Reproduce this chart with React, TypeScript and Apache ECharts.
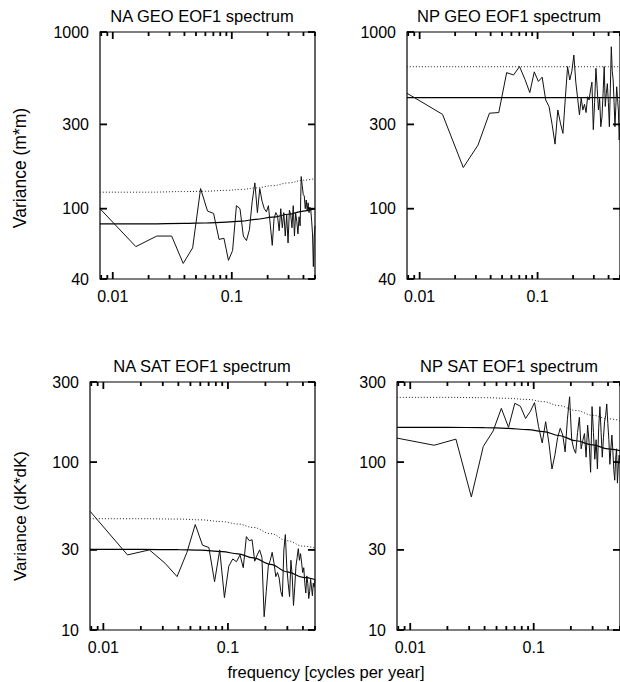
import React, { useEffect, useRef } from 'react';
import * as echarts from 'echarts';

const FONT = '"Liberation Sans", Arial, Helvetica, sans-serif';

// Discrete frequencies k / 128 cycles per year, k = 1..64
const N_YEARS = 128;
const freqs = Array.from({ length: 64 }, (_, i) => (i + 1) / N_YEARS);

// Spectra (variance)
const naGeo = [
  100, 61, 70, 70, 49, 60, 130, 97, 94, 67, 68, 51, 58, 104, 100, 70,
  66, 76, 110, 140, 95, 130, 110, 100, 96, 104, 80, 62, 88, 95, 91, 75,
  100, 78, 95, 70, 92, 64, 98, 93, 78, 104, 70, 94, 85, 72, 90, 80,
  152, 135, 120, 118, 100, 112, 98, 108, 95, 102, 98, 85, 72, 47, 70, 80,
];
const npGeo = [
  450, 342, 171, 229, 347, 350, 589, 571, 637, 540, 454, 595, 525, 555, 412, 379,
  300, 232, 362, 305, 267, 420, 637, 535, 600, 740, 520, 420, 340, 422, 362, 390,
  350, 430, 412, 470, 520, 280, 400, 623, 480, 362, 420, 291, 330, 450, 637, 379,
  450, 510, 400, 291, 480, 825, 600, 535, 400, 291, 380, 490, 420, 362, 245, 305,
];
const naSat = [
  51, 28, 30, 25, 20.8, 29, 42.5, 32, 31, 19.4, 30, 15.6, 24, 26.5, 25.5, 28,
  23.5, 36, 34, 34.5, 25.7, 28, 30, 27, 12, 17, 24, 26, 29, 25, 20.8, 22,
  20.4, 17, 15.8, 30, 37, 23.5, 19, 15.8, 26, 21, 14, 18, 24, 27, 30.5, 26,
  28.5, 25, 22, 23.5, 19, 16.6, 21, 19, 15.4, 17, 20, 18, 16, 19, 18, 20,
];
const npSat = [
  139, 126, 137, 62, 124, 153, 209, 161, 224, 215, 182, 200, 226, 163, 130, 174,
  130, 91, 110, 140, 159, 145, 115, 180, 245, 136, 120, 113, 150, 185, 120, 135,
  148, 107, 166, 130, 87, 214, 150, 104, 136, 91, 160, 214, 150, 107, 140, 174,
  190, 222, 170, 136, 97, 120, 145, 118, 90, 78, 104, 120, 75, 95, 110, 98,
];

// Fitted red-noise spectra (solid) and 95% level (dotted)
const fitFreqs = [0.0078125, 0.02, 0.04, 0.06, 0.09, 0.12, 0.16, 0.22, 0.3, 0.4, 0.5];
const naGeoFit = [82, 82, 82.5, 83, 84, 85, 87, 89.5, 93, 97, 100];
const naGeoConf = [124, 124, 125, 125.5, 127, 128.5, 131, 135, 140, 145, 148];
const npGeoFit = [425, 425, 425, 425, 425, 425, 425, 425, 425, 425, 425];
const npGeoConf = [636, 636, 636, 636, 636, 636, 636, 636, 636, 636, 636];
const naSatFit = [30.2, 30.2, 30.1, 29.9, 29.3, 28.4, 26.9, 24.6, 22.2, 20.6, 20];
const naSatConf = [46, 46, 45.8, 45.3, 44.2, 42.8, 40.8, 37.5, 34, 31.6, 30.8];
const npSatFit = [161, 161, 160.5, 159, 156, 152, 144, 134, 126.5, 120, 117];
const npSatConf = [243, 243, 242, 240, 236, 229, 217, 203, 190, 181, 177];

const titles = ['NA GEO EOF1 spectrum', 'NP GEO EOF1 spectrum', 'NA SAT EOF1 spectrum', 'NP SAT EOF1 spectrum'];
const geoTicks = [40, 100, 300, 1000];
const satTicks = [10, 30, 100, 300];
const xMajorTicks = [0.01, 0.1];
const xMajorLabels = ['0.01', '0.1'];
const xMinorTicks = [0.008, 0.009, 0.02, 0.03, 0.04, 0.05, 0.06, 0.07, 0.08, 0.09, 0.2, 0.3, 0.4, 0.5];
const yNames = ['Variance (m*m)', 'Variance (dK*dK)'];
const xName = 'frequency [cycles per year]';

const X_MIN = Math.log10(freqs[0]);
const X_MAX = Math.log10(freqs[freqs.length - 1]);

const panels = [
  { left: 100, top: 32, width: 215, height: 247, ticks: geoTicks, values: naGeo, fit: naGeoFit, conf: naGeoConf, tx: 202, ty: 7 },
  { left: 407, top: 32, width: 215, height: 247, ticks: geoTicks, values: npGeo, fit: npGeoFit, conf: npGeoConf, tx: 509, ty: 7 },
  { left: 90, top: 382, width: 225, height: 248, ticks: satTicks, values: naSat, fit: naSatFit, conf: naSatConf, tx: 202, ty: 357 },
  { left: 397, top: 382, width: 225, height: 248, ticks: satTicks, values: npSat, fit: npSatFit, conf: npSatConf, tx: 509, ty: 357 },
];

const MAJOR_LEN = 7;
const MINOR_LEN = 4;
const TICK_W = 1.8;

function xAxisDef(gi: number) {
  return {
    type: 'value',
    gridIndex: gi,
    position: 'bottom',
    min: X_MIN,
    max: X_MAX,
    axisLine: { show: false, onZero: false },
    splitLine: { show: false },
    axisTick: { show: false },
    axisLabel: {
      show: true,
      customValues: xMajorTicks.map((t) => Math.log10(t)),
      formatter: (v: number) => (v < -1.5 ? xMajorLabels[0] : xMajorLabels[1]),
      margin: 9,
      color: '#000',
      fontSize: 16,
      fontFamily: FONT,
    },
  };
}

function yAxisDef(gi: number, ticks: number[]) {
  const lt = ticks.map((t) => Math.log10(t));
  return {
    type: 'value',
    gridIndex: gi,
    position: 'left',
    min: lt[0],
    max: lt[lt.length - 1],
    axisLine: { show: false, onZero: false },
    splitLine: { show: false },
    axisTick: { show: false },
    axisLabel: {
      show: true,
      customValues: lt,
      formatter: (v: number) => String(Math.round(Math.pow(10, v))),
      margin: 11,
      color: '#000',
      fontSize: 16,
      fontFamily: FONT,
    },
  };
}

export default function App() {
  const ref = useRef<HTMLDivElement>(null);
  useEffect(() => {
    if (!ref.current) return;
    const chart = echarts.init(ref.current, undefined, { renderer: 'svg' });
    const xAxis: any[] = [];
    const yAxis: any[] = [];
    const series: any[] = [];
    panels.forEach((p, i) => {
      xAxis.push(xAxisDef(i));
      yAxis.push(yAxisDef(i, p.ticks));
      series.push({
        type: 'line',
        xAxisIndex: i,
        yAxisIndex: i,
        data: freqs.map((f, k) => [Math.log10(f), Math.log10(p.values[k])]),
        showSymbol: false,
        symbol: 'none',
        lineStyle: { color: '#111', width: 1 },
        z: 3,
      });
      series.push({
        type: 'line',
        xAxisIndex: i,
        yAxisIndex: i,
        data: fitFreqs.map((f, k) => [Math.log10(f), Math.log10(p.fit[k])]),
        showSymbol: false,
        symbol: 'none',
        smooth: 0.4,
        smoothMonotone: 'x',
        lineStyle: { color: '#000', width: 1.2 },
        z: 2,
      });
      series.push({
        type: 'line',
        xAxisIndex: i,
        yAxisIndex: i,
        data: fitFreqs.map((f, k) => [Math.log10(f), Math.log10(p.conf[k])]),
        showSymbol: false,
        symbol: 'none',
        smooth: 0.4,
        smoothMonotone: 'x',
        lineStyle: { color: '#222', width: 1, type: [1, 2] },
        z: 2,
      });
    });

    const texts: any[] = [
      {
        type: 'text',
        x: 20,
        y: 168,
        rotation: Math.PI / 2,
        style: { text: yNames[0], fontSize: 17.5, fontFamily: FONT, fill: '#000', align: 'center', verticalAlign: 'middle' },
      },
      {
        type: 'text',
        x: 20,
        y: 516,
        rotation: Math.PI / 2,
        style: { text: yNames[1], fontSize: 17, fontFamily: FONT, fill: '#000', align: 'center', verticalAlign: 'middle' },
      },
      {
        type: 'text',
        x: 326,
        y: 672,
        style: { text: xName, fontSize: 16.5, fontFamily: FONT, fill: '#000', align: 'center', verticalAlign: 'middle' },
      },
    ];

    chart.setOption({
      animation: false,
      backgroundColor: '#fff',
      textStyle: { fontFamily: FONT },
      title: panels.map((p, i) => ({
        text: titles[i],
        left: p.tx,
        top: p.ty,
        textAlign: 'center',
        padding: 0,
        textStyle: { fontSize: 16.5, fontWeight: 'normal', color: '#000', fontFamily: FONT },
      })),
      grid: panels.map((p) => ({
        left: p.left,
        top: p.top,
        width: p.width,
        height: p.height,
        show: true,
        borderColor: '#000',
        borderWidth: 1.2,
        backgroundColor: 'transparent',
      })),
      xAxis,
      yAxis,
      series,
      graphic: texts,
    });

    // Inward ticks on all four borders, placed through each grid's own scales
    const tickLines: any[] = [];
    const seg = (x1: number, y1: number, x2: number, y2: number) => ({
      type: 'line',
      z: 10,
      shape: { x1, y1, x2, y2 },
      style: { stroke: '#000', lineWidth: TICK_W },
    });
    panels.forEach((p, i) => {
      const finder = { gridIndex: i };
      const yLo = Math.log10(p.ticks[0]);
      const yHi = Math.log10(p.ticks[p.ticks.length - 1]);
      const addX = (t: number, len: number) => {
        const lx = Math.log10(t);
        const b = chart.convertToPixel(finder as any, [lx, yLo]) as number[];
        const tp = chart.convertToPixel(finder as any, [lx, yHi]) as number[];
        if (!b || !tp) return;
        tickLines.push(seg(b[0], b[1], b[0], b[1] - len));
        tickLines.push(seg(tp[0], tp[1], tp[0], tp[1] + len));
      };
      xMajorTicks.forEach((t) => addX(t, MAJOR_LEN));
      xMinorTicks.forEach((t) => addX(t, MINOR_LEN));
      p.ticks.forEach((t) => {
        const ly = Math.log10(t);
        const l = chart.convertToPixel(finder as any, [X_MIN, ly]) as number[];
        const r = chart.convertToPixel(finder as any, [X_MAX, ly]) as number[];
        if (!l || !r) return;
        tickLines.push(seg(l[0], l[1], l[0] + MAJOR_LEN, l[1]));
        tickLines.push(seg(r[0], r[1], r[0] - MAJOR_LEN, r[1]));
      });
    });
    chart.setOption({ graphic: [...texts, ...tickLines] });

    return () => chart.dispose();
  }, []);
  return <div ref={ref} style={{ position: 'absolute', left: 0, top: 0, width: 620, height: 682 }} />;
}
